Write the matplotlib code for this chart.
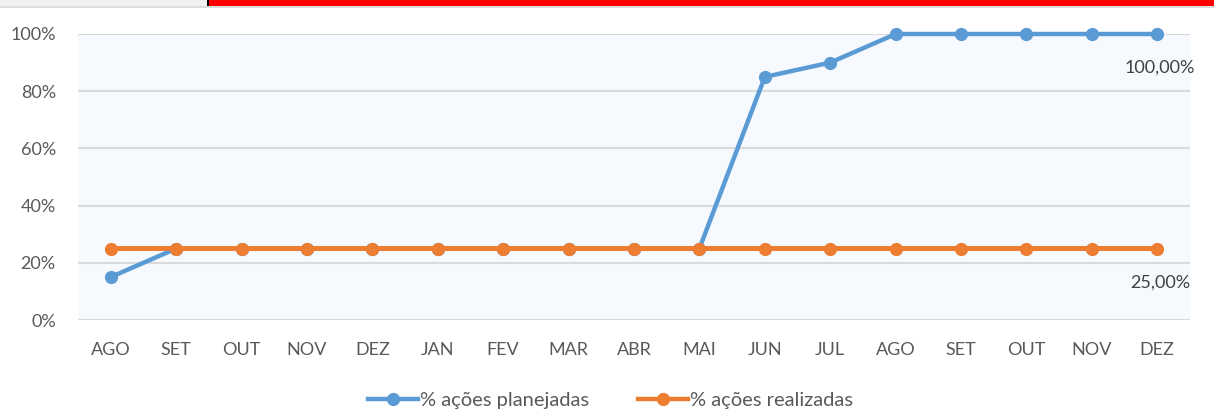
import matplotlib.pyplot as plt
from matplotlib.patches import Rectangle
from matplotlib.lines import Line2D
from matplotlib.ticker import FuncFormatter

meses = ['AGO', 'SET', 'OUT', 'NOV', 'DEZ', 'JAN', 'FEV', 'MAR', 'ABR',
         'MAI', 'JUN', 'JUL', 'AGO', 'SET', 'OUT', 'NOV', 'DEZ']
planejadas = [0.15, 0.25, 0.25, 0.25, 0.25, 0.25, 0.25, 0.25, 0.25,
              0.25, 0.85, 0.90, 1.00, 1.00, 1.00, 1.00, 1.00]
realizadas = [0.25] * 17
yticks = [0, 0.2, 0.4, 0.6, 0.8, 1.0]

azul = '#5B9BD5'
laranja = '#ED7D31'
cinza_txt = '#595959'

plt.rcParams['font.family'] = ['Lato', 'DejaVu Sans']

fig = plt.figure(figsize=(12.14, 4.11), dpi=100)
ax = fig.add_axes([78 / 1214, 1 - 320 / 411, 1112 / 1214, 286 / 411])
ax.set_facecolor('#F6FAFE')

x = list(range(len(meses)))
ax.plot(x, planejadas, color=azul, lw=3.2, marker='o', ms=8.5,
        clip_on=False, zorder=3, solid_capstyle='round', snap=False)
ax.plot(x, realizadas, color=laranja, lw=3.6, marker='o', ms=8.5,
        clip_on=False, zorder=4, solid_capstyle='round', snap=False)

ax.set_xlim(-0.5, len(meses) - 0.5)
ax.set_ylim(0, 1)
ax.set_yticks(yticks)
ax.yaxis.set_major_formatter(FuncFormatter(lambda v, p: '{:.0f}%'.format(v * 100)))
ax.set_xticks(x)
ax.set_xticklabels(meses)
ax.tick_params(length=0, labelsize=13, colors=cinza_txt)
ax.tick_params(axis='x', pad=16)
ax.tick_params(axis='y', pad=16)
ax.grid(axis='y', color='#DADADA', lw=1.5)
ax.set_axisbelow(True)
for s in ax.spines.values():
    s.set_visible(False)

# rótulos de dados
ax.annotate('100,00%', (x[-1], planejadas[-1]), xytext=(38, -34),
            textcoords='offset pixels', ha='right', va='center',
            fontsize=13, color='#404040')
ax.annotate('25,00%', (x[-1], realizadas[-1]), xytext=(33, -34),
            textcoords='offset pixels', ha='right', va='center',
            fontsize=13, color='#404040')

# legenda
handles = [Line2D([], [], color=azul, lw=3.2, marker='o', ms=8.5),
           Line2D([], [], color=laranja, lw=3.2, marker='o', ms=8.5)]
fig.legend(handles, ['% ações planejadas', '% ações realizadas'],
           loc='center', bbox_to_anchor=(0.503, 0.026), ncol=2, frameon=False,
           fontsize=14.5, labelcolor=cinza_txt, handlelength=2.5,
           handletextpad=0.1, columnspacing=2.4)

# faixa do topo
fig.add_artist(Rectangle((0, 1 - 6 / 411), 207 / 1214, 6 / 411,
                         transform=fig.transFigure, color='#F0F0F0', lw=0))
fig.add_artist(Rectangle((0, 1 - 8 / 411), 1, 1.5 / 411,
                         transform=fig.transFigure, color='#DDDDDD', lw=0))
fig.add_artist(Rectangle((207 / 1214, 1 - 6 / 411), 2 / 1214, 6 / 411,
                         transform=fig.transFigure, color='black', lw=0))
fig.add_artist(Rectangle((209 / 1214, 1 - 6 / 411), 1, 6 / 411,
                         transform=fig.transFigure, color='#FF0000', lw=0))

fig.savefig('out.png', dpi=100)
